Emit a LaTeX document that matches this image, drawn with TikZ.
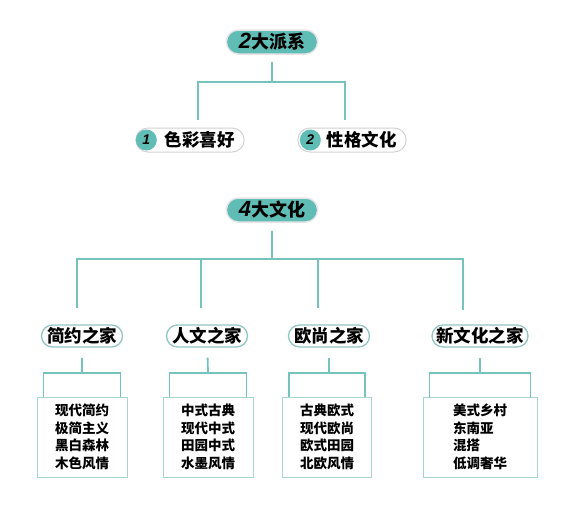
\documentclass[tikz,border=0pt]{standalone}
\usepackage{fontspec}
\setmainfont{Noto Sans CJK SC}
\newfontfamily\numfont{Liberation Sans}
\usetikzlibrary{positioning, shapes.misc}
\definecolor{tealfill}{HTML}{5FBDB6}
\definecolor{tealline}{HTML}{76C2BD}
\definecolor{pillrim}{HTML}{92C6C2}
\definecolor{boxrim}{HTML}{A8D4D0}

\begin{document}
\begin{tikzpicture}[x=1pt, y=-1pt,
    headpill/.style={rounded rectangle, fill=tealfill, draw=gray!20, line width=1.5pt, minimum width=98pt, minimum height=24pt, inner ysep=0pt, font=\bfseries\fontsize{18}{18}\selectfont},
    subpill/.style={rounded rectangle, draw=gray!35, line width=1pt, fill=white, minimum width=115pt, minimum height=24pt, inner ysep=0pt, font=\bfseries\fontsize{17.5}{17.5}\selectfont},
    numdot/.style={circle, fill=tealfill, minimum size=21pt, inner sep=0pt, font=\numfont\bfseries\itshape\fontsize{14}{14}\selectfont},
    catpill/.style={rounded rectangle, draw=pillrim, line width=1.3pt, fill=white, minimum height=22pt, inner xsep=2pt, inner ysep=0pt, font=\bfseries\fontsize{17.5}{17.5}\selectfont},
    listbox/.style={rectangle, draw=boxrim, line width=1pt, minimum height=80pt, align=left, font=\bfseries\fontsize{13.5}{17.5}\selectfont},
    link/.style={draw=tealline, line width=1.8pt}
]
    \fill[white] (0,0) rectangle (568,520);
    \useasboundingbox (0,0) rectangle (568,520);

    % two schools
    \node[headpill] (pa) at (272,42) {{\numfont\itshape\fontsize{22}{22}\selectfont 2}大派系};
    \node[subpill] (pl) at (190,140) {\hspace{19pt}色彩喜好};
    \node[subpill] (pr) at (352,140) {\hspace{19pt}性格文化};
    \node[numdot] (nl) at ([xshift=11pt]pl.west) {1};
    \node[numdot] (nr) at ([xshift=13pt]pr.west) {2};

    \coordinate (pj) at (272,82);
    \draw[link, shorten <=7pt] (pa) -- (pj);
    \draw[link, shorten <=8pt, shorten >=8pt] ([xshift=8pt]pl.north) |- (pj) -| ([xshift=-7pt]pr.north);

    % four cultures
    \node[headpill] (pc) at (272,210) {{\numfont\itshape\fontsize{22}{22}\selectfont 4}大文化};
    \node[catpill, minimum width=85pt] (k1) at (82,336) {简约之家};
    \node[catpill, minimum width=85pt] (k2) at (207,336) {人文之家};
    \node[catpill, minimum width=85pt] (k3) at (329,336) {欧尚之家};
    \node[catpill, minimum width=100pt] (k4) at (480,336) {新文化之家};

    \node[listbox, minimum width=90pt] (b1) at (82,437) {现代简约\\极简主义\\黑白森林\\木色风情};
    \node[listbox, minimum width=90pt] (b2) at (208,437) {中式古典\\现代中式\\田园中式\\水墨风情};
    \node[listbox, minimum width=89pt] (b3) at (327,437) {古典欧式\\现代欧尚\\欧式田园\\北欧风情};
    \node[listbox, minimum width=114pt] (b4) at (480,437) {美式乡村\\东南亚\\混搭\\低调奢华};

    \coordinate (cj) at (272,259);
    \coordinate (d1) at (77,308);
    \coordinate (d2) at (201,308);
    \coordinate (d3) at (318,308);
    \coordinate (d4) at (463,310);
    \draw[link, shorten <=8pt] (pc) -- (cj);
    \draw[link] (d1) |- (cj) -| (d4);
    \draw[link] (d2) -- (d2 |- cj);
    \draw[link] (d3) -- (d3 |- cj);

    \foreach \i/\cx in {1/82, 2/208, 3/329, 4/480} {
        \coordinate (j\i) at (\cx,373);
        \draw[link, shorten <=10pt] (k\i) -- (j\i);
        \draw[link] ([xshift=7pt]b\i.north west) |- (j\i) -| ([xshift=-7pt]b\i.north east);
    }
\end{tikzpicture}
\end{document}
